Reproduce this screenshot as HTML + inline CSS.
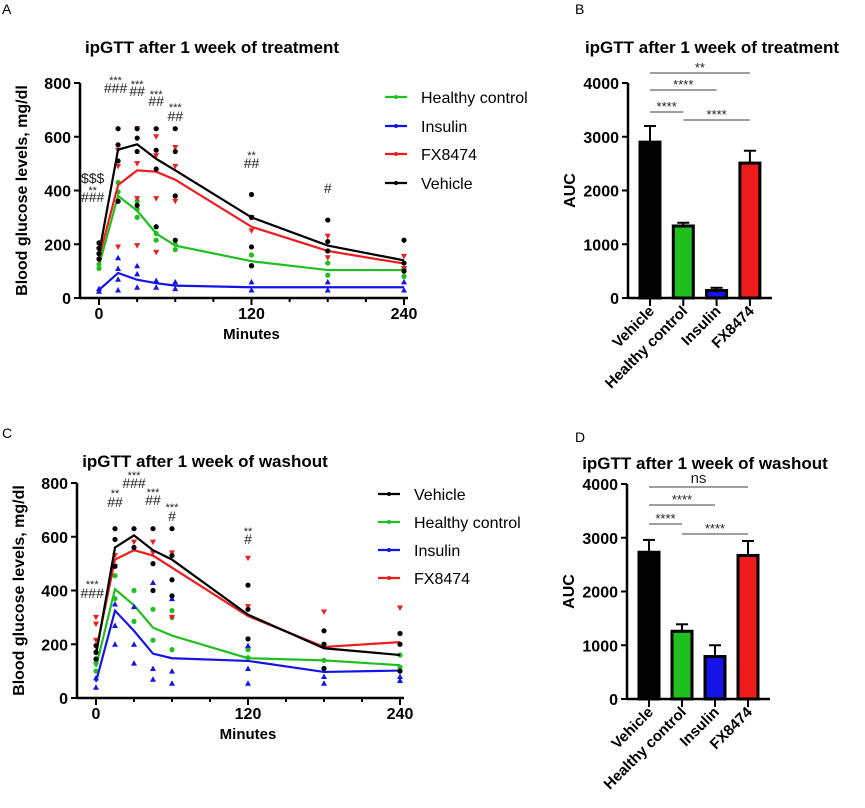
<!DOCTYPE html>
<html><head><meta charset="utf-8"><style>
body{margin:0;background:#fff}
svg{display:block;font-family:"Liberation Sans",Arial,sans-serif}
</style></head><body>
<svg id="s" width="865" height="808" viewBox="0 0 865 808">
<text x="2" y="14" font-size="14">A</text>
<text x="575" y="14" font-size="14">B</text>
<text x="2" y="438" font-size="14">C</text>
<text x="575" y="442" font-size="14">D</text>
<text x="212" y="53" font-size="17" font-weight="bold" text-anchor="middle">ipGTT after 1 week of treatment</text>
<text x="712" y="53" font-size="17" font-weight="bold" text-anchor="middle">ipGTT after 1 week of treatment</text>
<text x="205" y="467" font-size="17" font-weight="bold" text-anchor="middle">ipGTT after 1 week of washout</text>
<text x="705" y="469" font-size="17" font-weight="bold" text-anchor="middle">ipGTT after 1 week of washout</text>
</svg>
<script>
const NS="http://www.w3.org/2000/svg";const S=document.getElementById('s');
function mk(t,a,p){const e=document.createElementNS(NS,t);for(const k in a)e.setAttribute(k,a[k]);(p||S).appendChild(e);return e;}
const times=[0,15,30,45,60,120,180,240];
const A_vehicle=[165,552,572,518,475,300,195,140];
const A_fx=[150,420,475,470,440,265,175,128];
const A_healthy=[120,380,325,240,195,137,104,104];
const A_insulin=[30,93,68,55,46,40,40,40];
const C_vehicle=[160,560,605,550,515,310,185,160];
const C_fx=[175,515,550,530,485,305,190,208];
const C_healthy=[115,405,345,262,232,148,140,122];
const C_insulin=[60,325,250,165,148,138,97,102];
const A_vehicle_pts=[[145,165,185,205],[360,510,570,630],[345,545,595,630],[265,480,550,630],[215,380,545,630],[120,190,300,385],[175,210,290],[100,130,215]];
const A_fx_pts=[[140,160,180],[190,490,550],[195,370,500,630],[170,370,530,600],[360,490,560],[250,300],[150,230],[110,155]];
const A_healthy_pts=[[110,125],[360,395,430],[300,330,360],[215,240],[180,200],[120,160],[85,130],[80,110]];
const A_insulin_pts=[[25,35],[30,70,110,150],[40,90,120],[40,65],[35,60],[30,60],[30,60],[30,60]];
const C_vehicle_pts=[[145,170,195],[490,590,630],[560,630],[400,500,630],[380,440,530,630],[220,330,420],[110,200,250],[100,200,240]];
const C_fx_pts=[[215,275,300],[490,530],[580],[540,580],[300,540],[520,340],[320],[335]];
const C_healthy_pts=[[100,130],[370,455],[285,400],[215,330],[180,300,325],[150,180],[110,140],[115,160]];
const C_insulin_pts=[[40,75],[200,270,350],[130,200,340],[70,110,430],[55,100,370],[55,110,195],[55,80],[65,80]];
const legA=[["Healthy control","#1fbf1f"],["Insulin","#1414e6"],["FX8474","#ee1c1c"],["Vehicle","#000"]];
const legC=[["Vehicle","#000"],["Healthy control","#1fbf1f"],["Insulin","#1414e6"],["FX8474","#ee1c1c"]];

function linePanel(o){
  const X=t=>o.x0+(o.x1-o.x0)*t/240, Y=v=>o.y0-(o.y0-o.y800)*v/800;
  const g=mk('g',{});  
  mk('line',{x1:o.ax,y1:o.y800,x2:o.ax,y2:o.y0+1,stroke:'#000','stroke-width':2.5},g);
  mk('line',{x1:o.ax,y1:o.y0,x2:o.x1+4,y2:o.y0,stroke:'#000','stroke-width':2.5},g);
  [0,200,400,600,800].forEach(v=>{mk('line',{x1:o.ax-6,x2:o.ax,y1:Y(v),y2:Y(v),stroke:'#000','stroke-width':2},g);
    const t=mk('text',{x:o.ax-9,y:Y(v)+6,'font-size':16,'font-weight':'bold','text-anchor':'end'},g);t.textContent=v;});
  for(let t=0;t<=240;t+=30){const big=t%120==0;mk('line',{x1:X(t),x2:X(t),y1:o.y0,y2:o.y0+(big?7:4),stroke:'#000','stroke-width':2},g);
    if(big){const e=mk('text',{x:X(t),y:o.y0+21,'font-size':16,'font-weight':'bold','text-anchor':'middle'},g);e.textContent=t;}}
  const xl=mk('text',{x:(o.x0+o.x1)/2,y:o.y0+41,'font-size':15,'font-weight':'bold','text-anchor':'middle'},g);xl.textContent='Minutes';
  const yl=mk('text',{x:0,y:0,'font-size':16,'font-weight':'bold','text-anchor':'middle',transform:`translate(${o.ax-53},${(o.y0+o.y800)/2}) rotate(-90)`},g);yl.textContent='Blood glucose levels, mg/dl';
  o.series.forEach(s=>{
    s.pts.forEach((arr,i)=>arr.forEach(v=>{const x=X(times[i]),y=Y(v);
      if(s.m=='c')mk('circle',{cx:x,cy:y,r:2.6,fill:s.c},g);
      else if(s.m=='up')mk('polygon',{points:`${x},${y-3} ${x-3},${y+2.5} ${x+3},${y+2.5}`,fill:s.c},g);
      else mk('polygon',{points:`${x},${y+3} ${x-3},${y-2.5} ${x+3},${y-2.5}`,fill:s.c},g);}));
    const p=mk('polyline',{points:s.v.map((v,i)=>X(times[i])+','+Y(v)).join(' '),fill:'none',stroke:s.c,'stroke-width':2.2},g);
    
  });
  o.leg.forEach((l,i)=>{const y=o.ly[i];const le=mk('g',{},g);
    mk('line',{x1:o.lx,x2:o.lx+22,y1:y,y2:y,stroke:l[1],'stroke-width':2.2},le);mk('circle',{cx:o.lx+11,cy:y,r:2,fill:l[1]},le);
    const t=mk('text',{x:o.lx+36,y:y+6,'font-size':16},le);t.textContent=l[0];});
  o.ann.forEach(a=>{const star=a[2].indexOf('*')>=0;const t=mk('text',{x:X(a[0]),y:star?a[1]+4:a[1],'font-size':star?11:14,'text-anchor':'middle',fill:'#222'},g);t.textContent=a[2];});
}
linePanel({name:'panel-a',ax:80,x0:99,x1:404,y0:298,y800:83,lx:385,ly:[97,126,154,183],leg:legA,
 series:[{n:'healthy',v:A_healthy,pts:A_healthy_pts,c:'#1fbf1f',m:'c'},{n:'insulin',v:A_insulin,pts:A_insulin_pts,c:'#1414e6',m:'up'},{n:'fx8474',v:A_fx,pts:A_fx_pts,c:'#ee1c1c',m:'dn'},{n:'vehicle',v:A_vehicle,pts:A_vehicle_pts,c:'#000',m:'c'}],
 ann:[[-5,183,'$$$'],[-5,190,'**'],[-5,202,'###'],[13,80,'***'],[13,93,'###'],[30,84,'***'],[30,96,'##'],[45,94,'***'],[45,106,'##'],[60,107,'***'],[60,121,'##'],[120,155,'**'],[120,168,'##'],[180,193,'#']]});
linePanel({name:'panel-c',ax:77,x0:96,x1:400,y0:698,y800:483,lx:378,ly:[494,522,550,578],leg:legC,
 series:[{n:'healthy',v:C_healthy,pts:C_healthy_pts,c:'#1fbf1f',m:'c'},{n:'insulin',v:C_insulin,pts:C_insulin_pts,c:'#1414e6',m:'up'},{n:'fx8474',v:C_fx,pts:C_fx_pts,c:'#ee1c1c',m:'dn'},{n:'vehicle',v:C_vehicle,pts:C_vehicle_pts,c:'#000',m:'c'}],
 ann:[[-3,584,'***'],[-3,598,'###'],[15,493,'**'],[15,507,'##'],[30,475,'***'],[30,488,'###'],[45,492,'***'],[45,505,'##'],[60,507,'***'],[60,521,'#'],[120,531,'**'],[120,544,'#']]});

const barCats=["Vehicle","Healthy control","Insulin","FX8474"];
const barColors=["#000","#1fbf1f","#1414e6","#ee1c1c"];
const B_means=[2900,1340,140,2510];
const B_errs=[300,60,50,230];
const D_means=[2730,1260,790,2670];
const D_errs=[230,130,210,270];
const B_sig=[["**",0,3],["****",0,2],["****",0,1],["****",1,3]];
const D_sig=[["ns",0,3],["****",0,2],["****",0,1],["****",1,3]];
function barPanel(o){
  const Y=v=>o.y0-(o.y0-o.y4k)*v/4000, X=i=>o.c0+i*o.dx;
  const g=mk('g',{});
  o.means.forEach((m,i)=>{const x=X(i);
    mk('line',{x1:x,x2:x,y1:Y(m),y2:Y(m+o.errs[i]),stroke:'#000','stroke-width':2},g);
    mk('line',{x1:x-6,x2:x+6,y1:Y(m+o.errs[i]),y2:Y(m+o.errs[i]),stroke:'#000','stroke-width':2},g);
    const r=mk('rect',{x:x-10,y:Y(m),width:20,height:o.y0-Y(m),fill:barColors[i],stroke:'#000','stroke-width':3},g);
    
    mk('line',{x1:x,x2:x,y1:o.y0,y2:o.y0+8,stroke:'#000','stroke-width':2},g);
    const t=mk('text',{x:x+5,y:o.y0+14,'font-size':15,'font-weight':'bold','text-anchor':'end',transform:`rotate(-45 ${x+5} ${o.y0+14})`},g);t.textContent=barCats[i];});
  mk('line',{x1:o.ax,y1:o.y4k,x2:o.ax,y2:o.y0+1,stroke:'#000','stroke-width':2.5},g);
  mk('line',{x1:o.ax,y1:o.y0,x2:o.c0+3*o.dx+22,y2:o.y0,stroke:'#000','stroke-width':2.5},g);
  [0,1000,2000,3000,4000].forEach(v=>{mk('line',{x1:o.ax-6,x2:o.ax,y1:Y(v),y2:Y(v),stroke:'#000','stroke-width':2},g);
    const t=mk('text',{x:o.ax-9,y:Y(v)+6,'font-size':16,'font-weight':'bold','text-anchor':'end'},g);t.textContent=v;});
  const yl=mk('text',{x:0,y:0,'font-size':16,'font-weight':'bold','text-anchor':'middle',transform:`translate(${o.ax-53},${(o.y0+o.y4k)/2}) rotate(-90)`},g);yl.textContent='AUC';
  o.sig.forEach((s,i)=>{const y=o.sy[i];mk('line',{x1:X(s[1]),x2:X(s[2]),y1:y,y2:y,stroke:'#666','stroke-width':1.2},g);
    const t=mk('text',{x:(X(s[1])+X(s[2]))/2,y:s[0]=='ns'?y-4:y-1,'font-size':s[0]=='ns'?15:13,'text-anchor':'middle',fill:'#222'},g);t.textContent=s[0];});
}
barPanel({name:'panel-b',ax:628,y0:298,y4k:83,c0:650,dx:33.3,means:B_means,errs:B_errs,sig:B_sig,sy:[73,90,112,120]});
barPanel({name:'panel-d',ax:627,y0:699,y4k:484,c0:649,dx:33,means:D_means,errs:D_errs,sig:D_sig,sy:[487,505,524,534]});
</script>
</body></html>
